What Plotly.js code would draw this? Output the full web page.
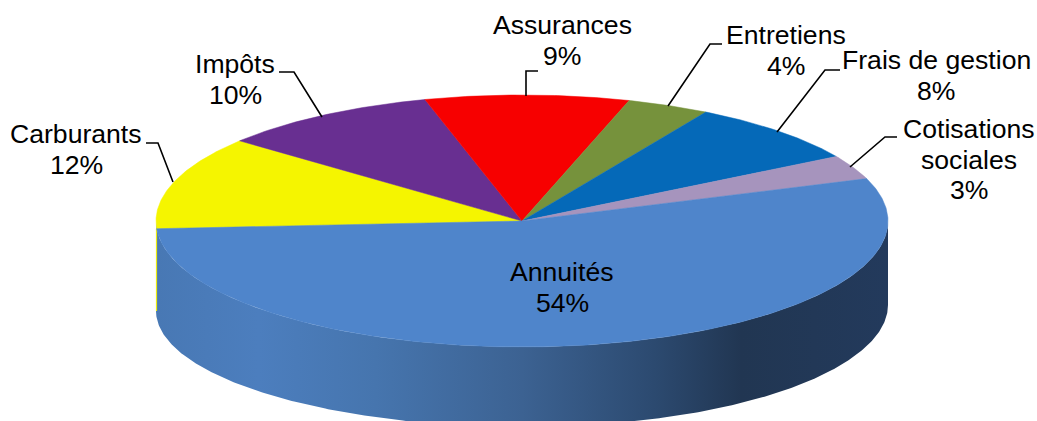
<!DOCTYPE html>
<html><head><meta charset="utf-8">
<script src="https://cdn.plot.ly/plotly-3.0.1.min.js"></script>
<style>html,body{margin:0;padding:0;background:#fff;overflow:hidden}#c{width:1037px;height:421px}</style>
</head><body><div id="c"></div>
<script>
// Data, clockwise from the left edge of the disc
const categories = ['Carburants','Impôts','Assurances','Entretiens','Frais de gestion','Cotisations sociales','Annuités'];
const values = [11.95, 9.75, 9.0, 3.65, 8.06, 3.1, 54.49];
const colors = ['#f5f500','#682f91','#f70000','#76923c','#0569b8','#a694bd','#4f85cb'];
// text lines of each label (the percent is appended from values)
const labelLines = [['Carburants'],['Impôts'],['Assurances'],['Entretiens'],['Frais de gestion'],['Cotisations','sociales'],['Annuités']];
const labelX = [76,235,562,786,936,969,562];
const labelY = [134,64,25,35,60,129,272];
const leaderX = [[146,158,173],[279,294,322],[538,526,526],[722,710,668],[840,825,777],[897,885,850]];
const leaderY = [[143,143,182],[72,72,117],[71,71,96],[44,44,106],[70,70,132],[137,137,167]];
const wallStops = [[0,'#4878b4'],[0.14,'#4c7ebe'],[0.3,'#4675ae'],[0.5,'#3c6292'],[0.68,'#2c4a70'],[0.8,'#213652'],[1,'#233a5c']];

// Disc geometry
const cx=522, cy=221, rx=366, ry=126, startDeg=183.5;
const pt=(deg)=>{const a=deg*Math.PI/180;
  return [cx+rx*Math.cos(a), cy-ry*Math.sin(a)];};
// lower rim of the wall: slightly taller on the left than on the right
const rim=(deg)=>{const a=deg*Math.PI/180,c=Math.cos(a);
  return [cx+rx*c, 308-3*c+(119+3*c)*Math.abs(Math.sin(a))];};
const arc=(a,b,f=pt)=>{const n=Math.max(2,Math.ceil(Math.abs(b-a)/0.5)),o=[];
  for(let i=0;i<=n;i++)o.push(f(a+(b-a)*i/n));return o;};

const total=values.reduce((p,v)=>p+v,0);
const traces=[];

// side wall
const wall=arc(180,360).concat(arc(360,180,rim));
traces.push({type:'scatter',mode:'lines',x:wall.map(p=>p[0]),y:wall.map(p=>p[1]),fill:'toself',
  line:{width:0,color:'#4878b4'},fillcolor:'#4878b4',
  fillgradient:{type:'horizontal',colorscale:wallStops},hoverinfo:'skip'});
// thin yellow edge at the far left of the wall
const yl=pt(startDeg);
traces.push({type:'scatter',mode:'lines',x:[cx-rx+0.5,cx-rx+0.5],y:[yl[1],rim(180)[1]],line:{color:'#ecec10',width:1.2},hoverinfo:'skip'});

// top slices
let ang=startDeg;
values.forEach((v,i)=>{
  const next=ang-v/total*360;
  const ring=arc(ang,next);
  const poly=[[cx,cy]].concat(ring,[[cx,cy]]);
  traces.push({type:'scatter',mode:'lines',x:poly.map(p=>p[0]),y:poly.map(p=>p[1]),fill:'toself',
    fillcolor:colors[i],line:{color:colors[i],width:0.5},name:categories[i],hoverinfo:'skip'});
  ang=next;
});

// leader lines
const lx=[],ly=[];
leaderX.forEach((xs,i)=>{lx.push(...xs,null);ly.push(...leaderY[i],null);});
traces.push({type:'scatter',mode:'lines',x:lx,y:ly,line:{color:'#000',width:1.6},hoverinfo:'skip'});

// labels: one annotation per line, 31px apart
const annotations=[];
labelLines.forEach((lines,i)=>{
  lines.concat([Math.round(values[i]/total*100)+'%']).forEach((t,j)=>{
    annotations.push({x:labelX[i],y:labelY[i]+j*30.7,xref:'x',yref:'y',text:t,showarrow:false,
      xanchor:'center',yanchor:'middle',font:{family:'"Liberation Sans",Arial,sans-serif',size:26.6,color:'#000'}});
  });
});

const hidden={visible:false,fixedrange:true};
Plotly.newPlot('c',traces,{
  width:1037,height:421,margin:{l:0,r:0,t:0,b:0},showlegend:false,
  paper_bgcolor:'#fff',plot_bgcolor:'#fff',
  xaxis:Object.assign({range:[0,1037]},hidden),
  yaxis:Object.assign({range:[421,0]},hidden),
  annotations
},{displayModeBar:false,staticPlot:true});
</script></body></html>
